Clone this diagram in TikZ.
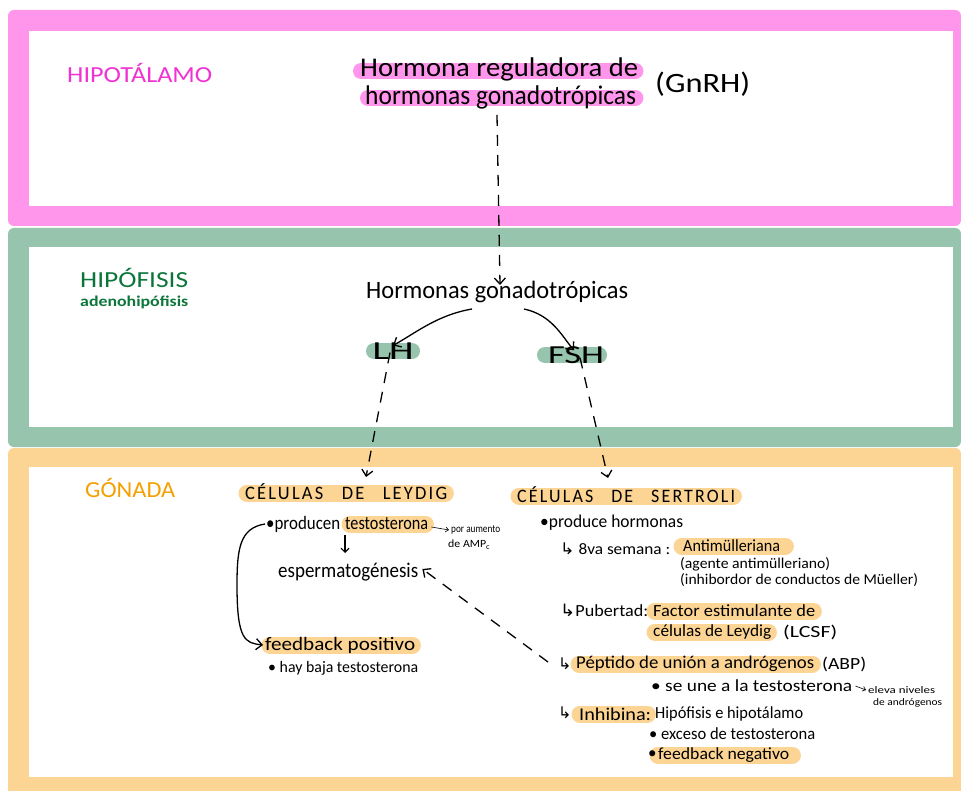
\documentclass[tikz,border=0pt]{standalone}
\usepackage{fontspec}
\usepackage{graphicx}
\setmainfont{Carlito}
\newfontfamily\symf{DejaVu Sans}
\usetikzlibrary{arrows.meta}
\definecolor{pinkb}{RGB}{255,150,235}
\definecolor{greenb}{RGB}{150,196,172}
\definecolor{orangeb}{RGB}{252,212,148}
\definecolor{magt}{RGB}{240,50,210}
\definecolor{greent}{RGB}{12,118,58}
\definecolor{oranget}{RGB}{245,160,0}
\pgfdeclarelayer{bands}
\pgfdeclarelayer{hilite}
\pgfsetlayers{bands,hilite,main}
\newcommand{\fs}[1]{\fontsize{#1}{#1}\selectfont}
\newcommand{\hk}{{\symf\char"21B3}}
\newlength\myfw
\newcommand{\fitw}[2]{\settowidth{\myfw}{#2}\pgfmathsetmacro\myfsx{#1/\myfw}\scalebox{\myfsx}[1]{#2}}
\tikzset{
  txt/.style={inner sep=0pt, anchor=west, text=black},
  ctxt/.style={inner sep=0pt, text=black},
  hlpink/.style={draw=pinkb, line width=16pt, line cap=round, shorten <=5pt, shorten >=5pt},
  hlgreen/.style={draw=greenb, line width=16pt, line cap=round},
  hlor/.style={draw=orangeb, line width=17pt, line cap=round, shorten <=5pt, shorten >=5pt},
  arr/.style={draw=black, line width=1.3pt, -{Straight Barb[length=6pt,width=11pt]}},
  dasharr/.style={arr, dash pattern=on 11pt off 9pt},
  small/.style={draw=black, line width=0.6pt, -{Straight Barb[length=3pt,width=5pt]}}
}
\begin{document}
\begin{tikzpicture}[x=1pt,y=-1pt]
\useasboundingbox (0,0) rectangle (961,791);
\begin{pgfonlayer}{bands}
\fill[white] (0,0) rectangle (961,791);
\fill[pinkb, rounded corners=6pt] (8,10) rectangle (961,226);
\fill[white] (29,31) rectangle (953,206);
\fill[greenb, rounded corners=6pt] (8,228) rectangle (961,447);
\fill[white] (29,247) rectangle (953,427);
\fill[orangeb, rounded corners=6pt] (8,448) rectangle (961,800);
\fill[white] (29,467) rectangle (953,777);
\end{pgfonlayer}

% HIPOTALAMO
\node[txt, text=magt, font=\fs{23}] (hipot) at (67,73) {\fitw{145}{HIPOTÁLAMO}};
\node[txt, font=\fs{27}] (g1) at (360,69) {\fitw{278}{Hormona reguladora de}};
\node[txt, font=\fs{27}] (g2) at (365,97) {\fitw{271}{hormonas gonadotrópicas}};
\node[txt, font=\fs{28}] (gnrh) at (655,84) {\fitw{95}{(GnRH)}};
\begin{pgfonlayer}{hilite}
\path[hlpink] ([xshift=-4pt]g1.west |- 0,71) -- ([xshift=2pt]g1.east |- 0,71);
\path[hlpink] ([xshift=-2pt]g2.west |- 0,98) -- ([xshift=4pt]g2.east |- 0,98);
\end{pgfonlayer}

% HIPOFISIS
\node[txt, text=greent, font=\fs{23}] (hipof) at (80,278) {\fitw{108}{HIPÓFISIS}};
\node[txt, text=greent, font=\bfseries\fs{15}] (adeno) at (80,302) {\fitw{108}{adenohipófisis}};
\node[txt, font=\fs{25}] (hg) at (366,292) {\fitw{262}{Hormonas gonadotrópicas}};
\node[ctxt, font=\fs{26}] (lh) at (393,351) {\fitw{41}{LH}};
\node[ctxt, font=\fs{26}] (fsh) at (576,355) {\fitw{56}{FSH}};
\begin{pgfonlayer}{hilite}
\path[hlgreen] (374,351) -- (412,351);
\path[hlgreen] (545,355) -- (599,355);
\end{pgfonlayer}

\draw[dasharr] (g2.south -| 497,0) ++(0,6) -- ([yshift=-4pt]hg.north -| 500,0);
\draw[arr] (472,309) .. controls +(-35,6) and +(22,-12) .. ([yshift=-3pt]lh.north);
\draw[arr] (524,309) .. controls +(28,6) and +(-12,-14) .. ([xshift=-2pt,yshift=-4pt]fsh.north);
\draw[dasharr] ([xshift=-3pt,yshift=7pt]lh.south) -- (366,477);
\draw[dasharr] ([xshift=4pt,yshift=6pt]fsh.south) -- (608,478);

% GONADA
\node[txt, text=oranget, font=\fs{23}] (gon) at (85,488) {\fitw{90}{GÓNADA}};
\node[txt, font=\addfontfeature{LetterSpace=12}\fs{19}] (leydig) at (245,492) {\fitw{202}{CÉLULAS\quad DE\quad LEYDIG}};
\node[txt, font=\addfontfeature{LetterSpace=12}\fs{19}] (sertoli) at (517,495) {\fitw{218}{CÉLULAS\quad DE\quad SERTROLI}};
\node[txt, font=\fs{19}] (prod) at (266,524) {\fitw{74}{•producen}};
\node[txt, font=\fs{19}] (testo) at (345,524) {\fitw{83}{testosterona}};
\node[txt, font=\fs{11}] (pora) at (451,530) {\fitw{49}{por aumento}};
\node[txt, font=\fs{11}] (amp) at (448,545) {\fitw{42}{de AMP\textsubscript{c}}};
\node[txt, font=\fs{21}] (esperm) at (278,572) {\fitw{140}{espermatogénesis}};
\node[txt, font=\fs{19}] (fbpos) at (265,645) {\fitw{150}{feedback positivo}};
\node[txt, font=\fs{16}] (baja) at (268,668) {\fitw{150}{• hay baja testosterona}};

\node[txt, font=\fs{18}] (prodh) at (540,523) {\fitw{143}{•produce hormonas}};
\node[txt, font=\fs{16}] (sem) at (560,549) {\fitw{110}{\hk\ 8va semana :}};
\node[txt, font=\fs{17}] (anti) at (683,546) {\fitw{97}{Antimülleriana}};
\node[txt, font=\fs{15}] (agente) at (680,564) {\fitw{150}{(agente antimülleriano)}};
\node[txt, font=\fs{15}] (inhibor) at (680,580) {\fitw{238}{(inhibordor de conductos de Müeller)}};
\node[txt, font=\fs{17}] (pub) at (560,610) {\fitw{88}{\hk Pubertad:}};
\node[txt, font=\fs{17}] (factor) at (653,611) {\fitw{162}{Factor estimulante de}};
\node[txt, font=\fs{17}] (celul) at (653,632) {\fitw{118}{células de Leydig}};
\node[txt, font=\fs{17}] (lcsf) at (783,632) {\fitw{54}{(LCSF)}};
\node[txt, font=\fs{16}] (hk3) at (558,664) {\hk};
\node[txt, font=\fs{18}] (pep) at (576,664) {\fitw{238}{Péptido de unión a andrógenos}};
\node[txt, font=\fs{17}] (abp) at (822,664) {\fitw{44}{(ABP)}};
\node[txt, font=\fs{17}] (une) at (651,686) {\fitw{201}{• se une a la testosterona}};
\node[txt, font=\fs{10}] (eleva) at (868,690) {\fitw{67}{eleva niveles}};
\node[txt, font=\fs{10}] (andr) at (873,703) {\fitw{69}{de andrógenos}};
\node[txt, font=\fs{16}] (hk4) at (558,713) {\hk};
\node[txt, font=\fs{18}] (inhb) at (579,714) {\fitw{72}{Inhibina:}};
\node[txt, font=\fs{17}] (hipe) at (655,714) {\fitw{148}{Hipófisis e hipotálamo}};
\node[txt, font=\fs{17}] (exceso) at (649,734) {\fitw{166}{• exceso de testosterona}};
\node[txt, font=\fs{17}] (bul) at (648,755) {•};
\node[txt, font=\fs{17}] (fbneg) at (658,755) {\fitw{131}{feedback negativo}};

\begin{pgfonlayer}{hilite}
\path[hlor] ([xshift=-3pt]leydig.west |- 0,493) -- ([xshift=3pt]leydig.east |- 0,493);
\path[hlor] ([xshift=-3pt]sertoli.west |- 0,496) -- ([xshift=3pt]sertoli.east |- 0,496);
\path[hlor] (testo.west |- 0,524) -- ([xshift=2pt]testo.east |- 0,524);
\path[hlor] (fbpos.west |- 0,645) -- ([xshift=2pt]fbpos.east |- 0,645);
\path[hlor] ([xshift=-6pt]anti.west |- 0,546) -- ([xshift=10pt]anti.east |- 0,546);
\path[hlor] ([xshift=-3pt]factor.west |- 0,611) -- ([xshift=3pt]factor.east |- 0,611);
\path[hlor] ([xshift=-3pt]celul.west |- 0,632) -- ([xshift=2pt]celul.east |- 0,632);
\path[hlor] ([xshift=-2pt]pep.west |- 0,664) -- ([xshift=3pt]pep.east |- 0,664);
\path[hlor] ([xshift=-4pt]inhb.west |- 0,714) -- ([xshift=1pt]inhb.east |- 0,714);
\path[hlor] ([xshift=-5pt]fbneg.west |- 0,755) -- ([xshift=8pt]fbneg.east |- 0,755);
\end{pgfonlayer}

\draw[arr, line width=1.1pt, -{Straight Barb[length=4pt,width=8pt]}] (345,535) -- (345,553);
\draw[small] ([xshift=3pt,yshift=-3pt]testo.east) -- ([xshift=-2pt]pora.west);
\draw[small] ([xshift=3pt]une.east) -- ([xshift=-2pt]eleva.west);
\draw[arr] ([xshift=-1pt]prod.west) .. controls (240,528) and (237,548) .. (237,585) .. controls (237,640) and (245,643) .. ([xshift=-2pt]fbpos.west);
\draw[dasharr] (548,662) -- ([xshift=4pt,yshift=3pt]esperm.east);
\end{tikzpicture}
\end{document}
